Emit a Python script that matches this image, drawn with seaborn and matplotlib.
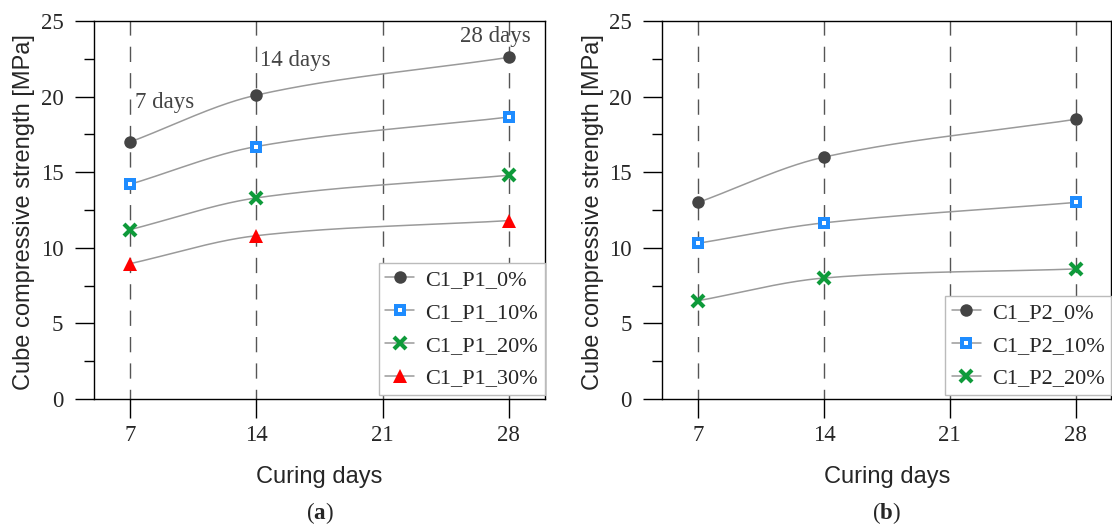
import numpy as np
import pandas as pd
import seaborn as sns
import matplotlib
matplotlib.use("Agg")
import matplotlib.pyplot as plt
from matplotlib.lines import Line2D
from matplotlib.ticker import MultipleLocator

# data
days = [7, 14, 28]

p1_labels = ["C1_P1_0%", "C1_P1_10%", "C1_P1_20%", "C1_P1_30%"]
p1_0 = [17.0, 20.1, 22.6]
p1_10 = [14.2, 16.7, 18.65]
p1_20 = [11.2, 13.3, 14.8]
p1_30 = [8.95, 10.8, 11.8]

p2_labels = ["C1_P2_0%", "C1_P2_10%", "C1_P2_20%"]
p2_0 = [13.0, 16.0, 18.5]
p2_10 = [10.3, 11.65, 13.0]
p2_20 = [6.5, 8.0, 8.6]

x_ticks = [7, 14, 21, 28]
annotations = [("7 days", 7.25, 19.6), ("14 days", 14.2, 22.4), ("28 days", 25.3, 23.95)]

SERIF = "Liberation Serif"
SANS = "Liberation Sans"

sns.set_theme(style="white")
plt.rcParams["font.family"] = [SERIF, "DejaVu Serif"]
plt.rcParams["mathtext.fontset"] = "custom"
plt.rcParams["mathtext.rm"] = SERIF
plt.rcParams["mathtext.bf"] = SERIF + ":bold"

styles = [
    dict(marker="o", ms=9, mfc="#444444", mec="#444444", mew=0),
    dict(marker="s", ms=8.5, mfc="#1E8CFF", mec="#1E8CFF", mew=0),
    dict(marker="x", ms=8, mfc="#0E9A3A", mec="#0E9A3A", mew=3),
    dict(marker="^", ms=9.5, mfc="#FF0000", mec="#FF0000", mew=0),
]
LINE_COLOR = "#9a9a9a"


def smooth(x, y, n=120):
    # cubic hermite through the points, only used to draw the curved line
    x = np.asarray(x, float)
    y = np.asarray(y, float)
    d = np.diff(y) / np.diff(x)
    m = np.empty_like(y)
    m[0], m[-1] = d[0], d[-1]
    m[1:-1] = (y[2:] - y[:-2]) / (x[2:] - x[:-2])
    xs, ys = [], []
    for i in range(len(x) - 1):
        h = x[i + 1] - x[i]
        t = np.linspace(0, 1, n)
        h00 = 2 * t**3 - 3 * t**2 + 1
        h10 = t**3 - 2 * t**2 + t
        h01 = -2 * t**3 + 3 * t**2
        h11 = t**3 - t**2
        xs.append(x[i] + t * h)
        ys.append(h00 * y[i] + h10 * h * m[i] + h01 * y[i + 1] + h11 * h * m[i + 1])
    return np.concatenate(xs), np.concatenate(ys)


def draw_panel(ax, series, labels, letter):
    for xv in x_ticks:
        ax.axvline(xv, color="#555555", lw=1.0, ls=(4, (11, 8)), zorder=0)

    handles = []
    for vals, lab, st in zip(series, labels, styles):
        xs, ys = smooth(days, vals)
        curve = pd.DataFrame({"day": xs, "val": ys})
        sns.lineplot(data=curve, x="day", y="val", ax=ax, color=LINE_COLOR,
                     lw=1.1, zorder=2, legend=False)
        pts = pd.DataFrame({"day": days, "val": vals})
        ax.plot(pts["day"], pts["val"], ls="none", zorder=3, **st)
        h = Line2D([], [], color=LINE_COLOR, lw=1.1, **st)
        if st["marker"] == "s":
            ax.plot(pts["day"], pts["val"], ls="none", marker="s", ms=2.2,
                    mfc="white", mec="white", mew=0, zorder=4)
            dot = Line2D([], [], ls="none", marker="s", ms=2.2, mfc="white", mec="white", mew=0)
            h = (h, dot)
        handles.append(h)

    ax.set_xlim(5, 30)
    ax.set_ylim(0, 25)
    ax.set_xticks(x_ticks)
    ax.yaxis.set_major_locator(MultipleLocator(5))
    ax.yaxis.set_minor_locator(MultipleLocator(2.5))
    ax.tick_params(axis="both", which="major", direction="out", length=14, width=1,
                   color="black", labelsize=16.5, left=True, bottom=True)
    ax.tick_params(axis="y", which="minor", direction="out", length=7, width=1,
                   color="black", left=True)
    ax.tick_params(axis="x", pad=5)
    ax.tick_params(axis="y", pad=8)
    for lab in ax.get_xticklabels() + ax.get_yticklabels():
        lab.set_fontfamily(SERIF)
    for sp in ax.spines.values():
        sp.set_visible(True)
        sp.set_color("black")
        sp.set_linewidth(1.0)

    ax.set_xlabel("Curing days", fontfamily=SANS, fontsize=17)
    ax.set_ylabel("Cube compressive strength [MPa]", fontfamily=SANS, fontsize=17)
    ax.xaxis.set_label_coords(0.5, -0.206)
    ax.xaxis.label.set_va("center")
    ax.yaxis.set_label_coords(-0.155, 0.495)
    ax.yaxis.label.set_va("center")

    leg = ax.legend(handles, labels, loc="lower right", bbox_to_anchor=(1.0, 0.01),
                    fontsize=16, frameon=True, fancybox=False, framealpha=1,
                    edgecolor="#bbbbbb", handlelength=1.3, handletextpad=0.5,
                    labelspacing=0.55, borderpad=0.3, borderaxespad=0.0)
    leg.get_frame().set_linewidth(1.0)

    ax.text(0.5, -0.302, r"($\mathbf{" + letter + r"}$)", transform=ax.transAxes,
            ha="center", va="center", fontsize=16.5, fontfamily=SERIF)


fig = plt.figure(figsize=(11.12, 5.27), dpi=100)
ax1 = fig.add_axes([0.0845, 0.243, 0.4055, 0.717])
ax2 = fig.add_axes([0.5955, 0.243, 0.4040, 0.717])

draw_panel(ax1, [p1_0, p1_10, p1_20, p1_30], p1_labels, "a")
draw_panel(ax2, [p2_0, p2_10, p2_20], p2_labels, "b")

for txt, xv, yv in annotations:
    ax1.text(xv, yv, txt, fontsize=16.5, color="#444444", fontfamily=SERIF,
             ha="left", va="center", zorder=5)

fig.savefig("out.png", dpi=100)
